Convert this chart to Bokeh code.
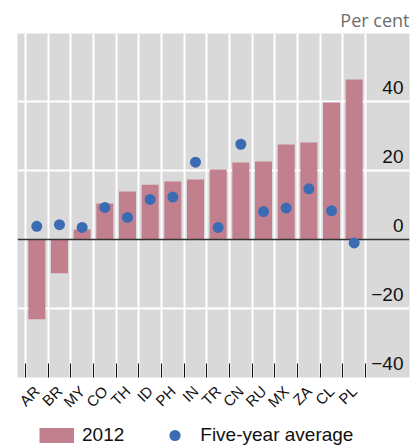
import math
from bokeh.plotting import figure
from bokeh.layouts import column
from bokeh.models import (FixedTicker, Grid, Legend, LegendItem, Title, ColumnDataSource)
from bokeh.embed import file_html
from bokeh.resources import INLINE
from bokeh.core.properties import value

countries = ["AR", "BR", "MY", "CO", "TH", "ID", "PH", "IN", "TR", "CN", "RU", "MX", "ZA", "CL", "PL"]
val_2012 = [-23.1, -9.8, 2.9, 10.4, 13.9, 15.9, 16.8, 17.4, 20.3, 22.3, 22.6, 27.5, 28.1, 39.7, 46.4]
five_year_avg = [3.8, 4.3, 3.5, 9.3, 6.4, 11.6, 12.3, 22.4, 3.5, 27.6, 8.1, 9.1, 14.7, 8.3, -1.0]
y_ticks = [40, 20, 0, -20, -40]
y_tick_labels = ["40", "20", "0", "\u221220", "\u221240"]

BAR = "#C2808F"
DOT = "#3A6BB3"
FONT = "Liberation Sans"

idx = list(range(len(countries)))
src = ColumnDataSource(dict(x=idx, v=val_2012, a=five_year_avg))

p = figure(width=416, height=420, output_backend="svg", toolbar_location=None,
           x_range=(-0.851, 16.44), y_range=(-40, 59.7),
           y_axis_location=None,
           min_border_left=17, min_border_right=7, min_border_top=33, min_border_bottom=43)
p.background_fill_color = "#D9D9D9"
p.outline_line_color = None
p.border_fill_color = "white"

# "Per cent" unit label above the frame, right aligned
p.add_layout(Title(text="Per cent", align="right", vertical_align="bottom", standoff=3,
                   text_font="Open Sans", text_font_size="18px", text_font_style="normal",
                   text_color="#6E6E6E"), "above")

# x axis: labels at centres, small ticks at category boundaries
bounds = [i - 0.5 for i in idx] + [len(idx) - 0.5]
xt = FixedTicker(ticks=idx, minor_ticks=bounds)
ax = p.xaxis[0]
ax.ticker = xt
ax.major_label_overrides = {i: c for i, c in zip(idx, countries)}
ax.major_tick_in = 0
ax.major_tick_out = 0
ax.minor_tick_in = 14
ax.minor_tick_out = 0
ax.minor_tick_line_color = "#111111"
ax.minor_tick_line_width = 1
ax.axis_line_color = None
ax.major_label_orientation = math.pi / 4
ax.major_label_standoff = 11
ax.major_label_text_font = FONT
ax.major_label_text_font_size = "15px"
ax.major_label_text_color = "#111111"

p.xgrid.grid_line_color = None
p.xgrid.minor_grid_line_color = "white"
p.xgrid.minor_grid_line_width = 2

yg = Grid(dimension=1, ticker=FixedTicker(ticks=[-20, 20, 40]),
          grid_line_color="white", grid_line_width=2)
p.add_layout(yg)

bars = p.vbar(x="x", top="v", bottom=0, width=0.75, source=src,
              fill_color=BAR, line_color=None)
p.hspan(y=[0], line_color="#333333", line_width=1.5)
dots = p.scatter(x="x", y="a", source=src, size=11, marker="circle",
                 fill_color=DOT, line_color=None)

# y tick labels inside the plot at the right
p.text(x=[p.x_range.end] * len(y_ticks), y=y_ticks, text=y_tick_labels,
       text_align="right", text_baseline="alphabetic", x_offset=-6, y_offset=-14,
       text_font=value(FONT), text_font_size="19px", text_color="#111111")

# legend strip below the chart (key renderers are hidden; only their legend swatches show)
lf = figure(width=416, height=26, output_backend="svg", toolbar_location=None,
            x_axis_location=None, y_axis_location=None,
            min_border_left=0, min_border_right=0, min_border_top=0, min_border_bottom=0)
lf.outline_line_color = None
lf.grid.visible = False
bar_key = lf.line(x="x", y="v", source=src, line_color=BAR, line_width=15, visible=False)
dot_key = lf.scatter(x="x", y="a", source=src, marker="circle", fill_color=DOT,
                     line_color=None, visible=False)

leg = Legend(items=[LegendItem(label="2012", renderers=[bar_key]),
                    LegendItem(label="Five-year average", renderers=[dot_key])],
             orientation="horizontal", location=(22, -2.5),
             glyph_width=35, glyph_height=28, label_height=28,
             label_standoff=8, spacing=33, padding=0, margin=0,
             border_line_color=None, background_fill_alpha=0,
             inactive_fill_alpha=0,
             label_text_font=FONT, label_text_font_size="19px",
             label_text_color="#111111")
lf.add_layout(leg, "center")

layout = column(p, lf, spacing=0)
open("out.html", "w").write(file_html(layout, INLINE))
